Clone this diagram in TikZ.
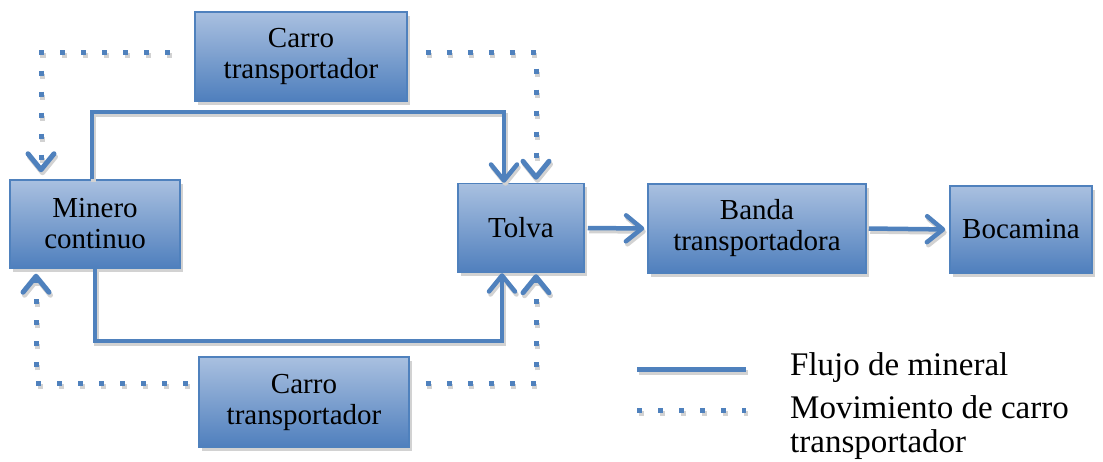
\documentclass[tikz,border=0pt]{standalone}
\usepackage{fontspec}
\setmainfont{Liberation Serif}
\usetikzlibrary{arrows.meta,shadows}
\definecolor{flow}{HTML}{4F81BD}
\definecolor{boxtop}{HTML}{A9C0E0}
\definecolor{boxbot}{HTML}{4F7FBD}
\definecolor{shade}{HTML}{D2D2D2}
\begin{document}
\begin{tikzpicture}[x=1pt,y=-1pt,
  block/.style={draw=flow, line width=1.5pt, top color=boxtop, bottom color=boxbot,
    align=center, inner sep=0pt, font=\fontsize{29}{31}\selectfont,
    drop shadow={shadow xshift=3pt, shadow yshift=-4pt, fill=shade, opacity=1}},
  barb/.style={-{Straight Barb[length=16pt, width=26pt, round]}},
  flowline/.style={draw=flow, line width=4.5pt,
    preaction={draw=shade, line width=4.5pt, transform canvas={xshift=1.5pt, yshift=-3pt}}},
  carline/.style={draw=flow, line width=5pt, dash pattern=on 5pt off 16pt,
    preaction={draw=shade, line width=5pt, dash pattern=on 5pt off 16pt,
      transform canvas={xshift=1.5pt, yshift=-3pt}}},
  legendtext/.style={font=\fontsize{33}{33}\selectfont, inner sep=0pt, anchor=base west}]
\useasboundingbox (0,0) rectangle (1103,462);

% process blocks
\node[block, minimum width=212pt, minimum height=89pt] (carroT) at (301,56.5) {Carro\\transportador};
\node[block, minimum width=170pt, minimum height=88pt] (minero) at (95,224) {Minero\\continuo};
\node[block, minimum width=126pt, minimum height=89pt] (tolva) at (521,228) {Tolva};
\node[block, minimum width=218pt, minimum height=89pt] (banda) at (757,228.5) {Banda\\transportadora};
\node[block, minimum width=142pt, minimum height=87pt] (boca) at (1021,229.5) {Bocamina};
\node[block, minimum width=210pt, minimum height=90pt] (carroB) at (304,402) {Carro\\transportador};

% mineral flow
\draw[flowline, barb] ([xshift=-3pt]minero.north) -- ++(0,-67) -| ([xshift=-17pt]tolva.north);
\draw[flowline, barb] (minero.south) -- ++(0,72) -| ([xshift=-19pt]tolva.south);
\draw[flowline, barb, shorten <=3pt, shorten >=3pt] (tolva.east) -- (banda.west);
\draw[flowline, barb, shorten <=2pt, shorten >=4pt] (banda.east) -- (boca.west);

% haul car movement
\draw[carline, barb, shorten <=24pt, shorten >=7pt] ([yshift=3.5pt]carroT.west) -| ([xshift=-54pt]minero.north);
\draw[carline, barb, shorten <=18pt, shorten >=3pt] ([yshift=3.5pt]carroT.east) -| ([xshift=15pt]tolva.north);
\draw[carline, barb, shorten <=10pt, shorten >=5pt] ([yshift=19pt]carroB.west) -| ([xshift=-59pt]minero.south);
\draw[carline, barb, shorten <=16pt, shorten >=1pt] ([yshift=19pt]carroB.east) -| ([xshift=15pt]tolva.south);

% legend
\coordinate (lfa) at (637,369.5);
\coordinate (lfb) at (746,369.5);
\coordinate (lca) at (637,410.5);
\coordinate (lcb) at (746,410.5);
\draw[flowline] (lfa) -- (lfb);
\draw[carline] (lca) -- (lcb);
\node[legendtext] (lflujo) at (790,375) {Flujo de mineral};
\node[legendtext] (lmov) at (790,418) {Movimiento de carro};
\node[legendtext] (ltrans) at (790,452) {transportador};
\end{tikzpicture}
\end{document}
